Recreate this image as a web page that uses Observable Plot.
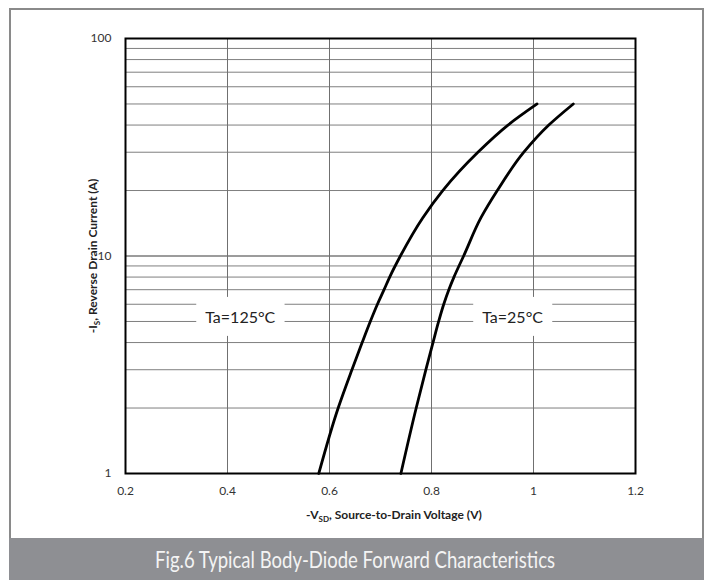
<!DOCTYPE html>
<html><head><meta charset="utf-8">
<script src="https://cdn.jsdelivr.net/npm/d3@7"></script>
<script src="https://cdn.jsdelivr.net/npm/@observablehq/plot@0.6"></script>
<style>
html,body{margin:0;padding:0;background:#fff;}
#page{position:relative;width:711px;height:580px;overflow:hidden;background:#fff;font-family:Lato,sans-serif;}
#chart{position:absolute;left:0;top:0;}
#border{position:absolute;left:9px;top:8px;width:695px;height:580px;border:2px solid #8a8a8a;border-bottom:none;box-sizing:border-box;pointer-events:none;}
#titlebar{position:absolute;left:9px;top:538px;width:695px;height:42px;background:#8e8f93;}
</style>
</head><body>
<div id="page"><div id="chart"></div><div id="border"></div><div id="titlebar"></div></div>
<script>
// Data
const current = [1, 2, 3, 4, 5, 6, 7, 8, 10, 15, 20, 30, 40, 50];           // -Is (A)
const vsd125 = [0.579, 0.617, 0.644, 0.664, 0.680, 0.694, 0.707, 0.718, 0.739, 0.783, 0.822, 0.891, 0.950, 1.007];
const vsd25  = [0.740, 0.770, 0.789, 0.803, 0.814, 0.824, 0.834, 0.844, 0.863, 0.897, 0.929, 0.981, 1.030, 1.078];
const seriesNames = ["Ta=125°C", "Ta=25°C"];
const xTicks = [0.2, 0.4, 0.6, 0.8, 1.0, 1.2];
const xTickLabels = ["0.2", "0.4", "0.6", "0.8", "1", "1.2"];
const yTicks = [1, 10, 100];
const yTickLabels = ["1", "10", "100"];
const yGrid = [2, 3, 4, 5, 6, 7, 8, 9, 20, 30, 40, 50, 60, 70, 80, 90];
const yDecades = [10];
const labelX = [0.425, 0.959];
const labelY = [5.2, 5.2];
const titleText = "Fig.6 Typical Body-Diode Forward Characteristics";
const xLabelMain = ["-V", "SD", ", Source-to-Drain Voltage (V)"];
const yLabelMain = ["-I", "S", ", Reverse Drain Current (A)"];

// rows ordered from high to low current so the screen y increases along each line
const rows = [];
for (let i = current.length - 1; i >= 0; i--) rows.push({series: seriesNames[0], v: vsd125[i], i: current[i]});
for (let i = current.length - 1; i >= 0; i--) rows.push({series: seriesNames[1], v: vsd25[i], i: current[i]});
const labels = seriesNames.map((s, k) => ({text: s, x: labelX[k], y: labelY[k]}));

const plot = Plot.plot({
  width: 711, height: 538,
  marginLeft: 125, marginRight: 76, marginTop: 38, marginBottom: 65,
  style: {fontFamily: "Lato, sans-serif", fontSize: "12px", color: "#333", background: "transparent"},
  x: {domain: [0.2, 1.2]},
  y: {type: "log", domain: [1, 100]},
  marks: [
    Plot.ruleY(yGrid, {stroke: "#7f7f7f", strokeWidth: 1}),
    Plot.ruleY(yDecades, {stroke: "#3a3a3a", strokeWidth: 1.2}),
    Plot.ruleX(xTicks, {stroke: "#707070", strokeWidth: 1}),
    Plot.axisX({ticks: xTicks, tickSize: 0, tickPadding: 13, tickFormat: d => xTickLabels[xTicks.findIndex(t => Math.abs(t - d) < 1e-9)], label: null, fontSize: 12}),
    Plot.axisY({ticks: yTicks, tickSize: 0, tickPadding: 14, tickFormat: d => yTickLabels[yTicks.findIndex(t => Math.abs(t - d) < 1e-9)], label: null, fontSize: 12}),
    Plot.text(labels, {x: "x", y: "y", text: "text", fontSize: 16, fill: "#222"}),
    Plot.line(rows, {x: "v", y: "i", z: "series", stroke: "#000", strokeWidth: 2.8, curve: "monotone-y"}),
    Plot.frame({stroke: "#000", strokeWidth: 2})
  ]
});
document.getElementById("chart").appendChild(plot);

const svg = d3.select(plot);
// white boxes behind the series labels
svg.selectAll('g[aria-label="text"] text').each(function() {
  const bb = this.getBBox();
  const padX = 9, h = 39;
  const r = document.createElementNS("http://www.w3.org/2000/svg", "rect");
  r.setAttribute("x", bb.x - padX);
  r.setAttribute("y", bb.y + bb.height / 2 - h / 2);
  r.setAttribute("width", bb.width + 2 * padX);
  r.setAttribute("height", h);
  r.setAttribute("fill", "#fff");
  if (this.getAttribute("transform")) r.setAttribute("transform", this.getAttribute("transform"));
  this.parentNode.insertBefore(r, this);
});

// axis titles with subscripts
function addLabel(parts, attrs) {
  const t = svg.append("text").attr("font-family", "Lato, sans-serif").attr("font-weight", "bold")
    .attr("font-size", 12).attr("fill", "#222").attr("text-anchor", "middle");
  for (const k in attrs) t.attr(k, attrs[k]);
  t.append("tspan").text(parts[0]);
  t.append("tspan").attr("font-size", 8).attr("dy", 3).text(parts[1]);
  t.append("tspan").attr("dy", -3).text(parts[2]);
  return t;
}
addLabel(xLabelMain, {x: 394, y: 519});
addLabel(yLabelMain, {transform: "translate(97,256) rotate(-90)"});

// title bar
const tb = d3.select("#titlebar").append("svg").attr("width", 695).attr("height", 42);
tb.append("text").attr("x", 346).attr("y", 30).attr("text-anchor", "middle")
  .attr("font-family", "Lato, sans-serif").attr("font-size", 23).attr("fill", "#f4f4f4")
  .attr("textLength", 400).attr("lengthAdjust", "spacingAndGlyphs").text(titleText);
</script>
</body></html>
